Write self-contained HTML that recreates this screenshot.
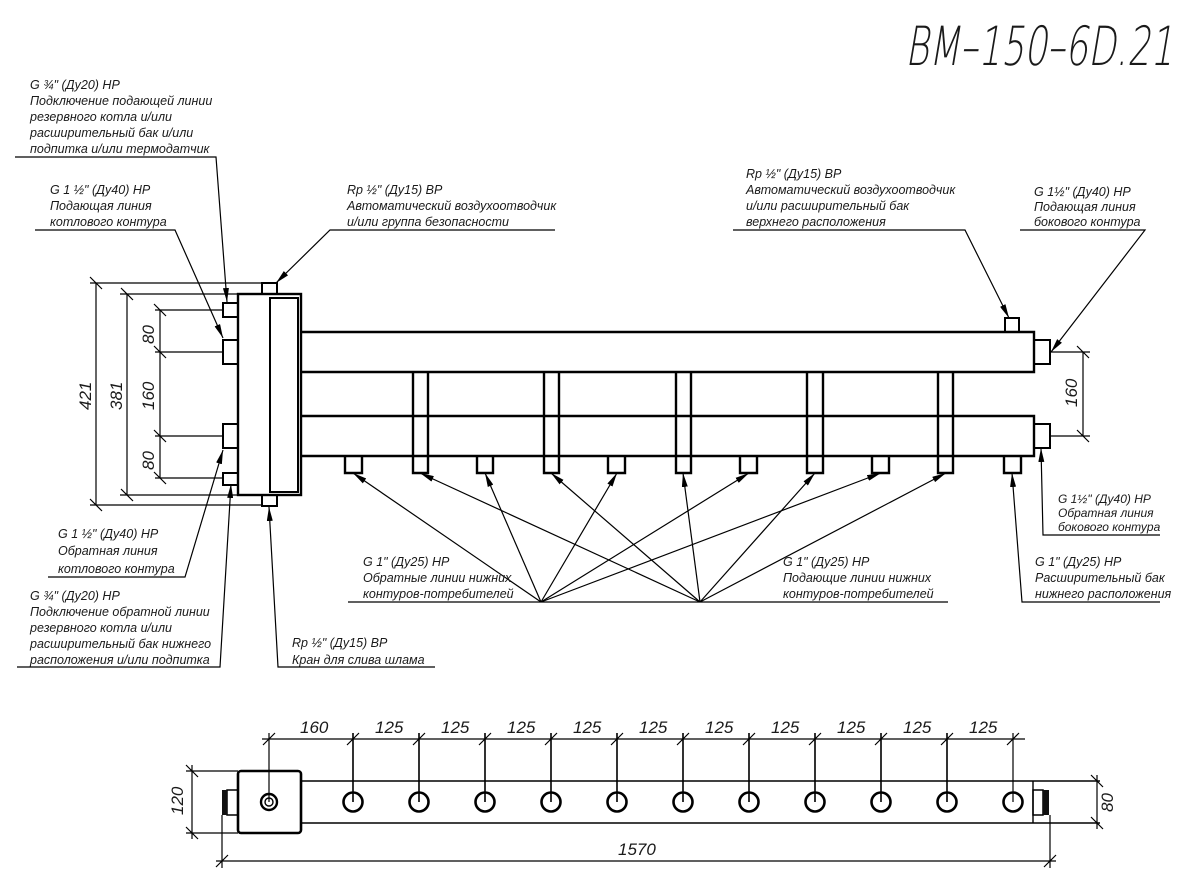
<!DOCTYPE html>
<html><head><meta charset="utf-8"><style>
html,body{margin:0;padding:0;background:#fff;}
svg{display:block;}
text{font-family:"Liberation Sans Narrow","Liberation Sans","DejaVu Sans",sans-serif;font-style:italic;fill:#1a1a1a;}
.t{font-size:12.5px;}
.ttl{font-family:"DejaVu Sans ExtraLight","DejaVu Sans Light","Liberation Sans Narrow","Liberation Sans",sans-serif;font-weight:200;}
</style></head><body>
<svg width="1200" height="892" viewBox="0 0 1200 892" xmlns="http://www.w3.org/2000/svg">
<defs>
<marker id="a" viewBox="0 0 14 6" refX="14" refY="3" markerWidth="14" markerHeight="6" markerUnits="userSpaceOnUse" orient="auto">
<path d="M0,0 L14,3 L0,6 z" fill="#000"/></marker>
</defs>
<text class="ttl" x="905" y="65" font-size="54" textLength="268" lengthAdjust="spacingAndGlyphs">BM–150–6D.21</text>

<g stroke="#000" fill="none" stroke-width="1.2">
<g stroke-width="2.4">
<rect x="238" y="294" width="63" height="201"/>
<rect x="270" y="298" width="28" height="194" stroke-width="2"/>
<path d="M301,332 H1034 V372 H301 M301,416 H1034 V456 H301"/>
<path d="M413,372 V473 H428 V372 M544,372 V473 H559 V372 M676,372 V473 H691 V372 M807,372 V473 H823 V372 M938,372 V473 H953 V372"/>
<path d="M345,456 V473 H362 V456 M477,456 V473 H493 V456 M608,456 V473 H625 V456 M740,456 V473 H757 V456 M872,456 V473 H889 V456 M1004,456 V473 H1021 V456"/>
</g>
<g stroke-width="2">
<rect x="262" y="283" width="15" height="11"/><rect x="262" y="495" width="15" height="11"/>
<rect x="1005" y="318" width="14" height="14"/>
<rect x="223" y="303" width="15" height="14"/><rect x="223" y="340" width="15" height="24"/>
<rect x="223" y="424" width="15" height="24"/><rect x="223" y="473" width="15" height="12"/>
<rect x="1034" y="340" width="16" height="24"/><rect x="1034" y="424" width="16" height="24"/>
</g>
<path d="M96,283 V505 M90,283 H262 M90,505 H262 M127,294 V495 M120,294 H238 M120,495 H238 M160,310 V478 M155,310 H223 M155,352 H223 M155,436 H223 M155,478 H223"/>
<path d="M90,277 L102,289 M90,499 L102,511 M121,288 L133,300 M121,489 L133,501 M154,304 L166,316 M154,346 L166,358 M154,430 L166,442 M154,472 L166,484"/>
<path d="M1050,352 H1090 M1050,436 H1090 M1083,352 V436 M1077,346 L1089,358 M1077,430 L1089,442"/>
<path d="M15,157 H216 L227,302" marker-end="url(#a)"/>
<path d="M35,230 H175 L223,338" marker-end="url(#a)"/>
<path d="M555,230 H330 L276,283" marker-end="url(#a)"/>
<path d="M733,230 H965 L1009,318" marker-end="url(#a)"/>
<path d="M1020,230 H1145 L1051,352" marker-end="url(#a)"/>
<path d="M48,577 H185 L223,450" marker-end="url(#a)"/>
<path d="M17,667 H220 L231,484" marker-end="url(#a)"/>
<path d="M435,667 H278 L269,507" marker-end="url(#a)"/>
<path d="M348,602 H948"/>
<path d="M541,602 L353,473" marker-end="url(#a)"/>
<path d="M541,602 L485,473" marker-end="url(#a)"/>
<path d="M541,602 L617,473" marker-end="url(#a)"/>
<path d="M541,602 L749,473" marker-end="url(#a)"/>
<path d="M541,602 L881,473" marker-end="url(#a)"/>
<path d="M700,602 L420,473" marker-end="url(#a)"/>
<path d="M700,602 L551,473" marker-end="url(#a)"/>
<path d="M700,602 L683,473" marker-end="url(#a)"/>
<path d="M700,602 L815,473" marker-end="url(#a)"/>
<path d="M700,602 L946,473" marker-end="url(#a)"/>
<path d="M1160,602 H1022 L1012,473" marker-end="url(#a)"/>
<path d="M1160,535 H1043 L1041,448" marker-end="url(#a)"/>

<rect x="238" y="771" width="63" height="62" rx="3" stroke-width="2.6"/>
<path d="M301,781 H1100 M301,823 H1100 M1033,781 V823" stroke-width="1.4"/>
<rect x="227" y="790" width="11" height="25" stroke-width="1.5"/>
<rect x="1033" y="790" width="10" height="25" stroke-width="1.5"/>
<path d="M262,739 H1025 M269,733 V802 M1013,733 V802"/>
<path d="M353,733 V802 M419,733 V802 M485,733 V802 M551,733 V802 M617,733 V802 M683,733 V802 M749,733 V802 M815,733 V802 M881,733 V802 M947,733 V802" stroke-width="1.6"/>
<path d="M263,745 L275,733 M347,745 L359,733 M413,745 L425,733 M479,745 L491,733 M545,745 L557,733 M611,745 L623,733 M677,745 L689,733 M743,745 L755,733 M809,745 L821,733 M875,745 L887,733 M941,745 L953,733 M1007,745 L1019,733"/>
<path d="M186,771 H238 M186,833 H238 M192,765 V839 M186,765 L198,777 M186,827 L198,839"/>
<path d="M1097,775 V829 M1091,775 L1103,787 M1091,817 L1103,829"/>
<path d="M222,815 V868 M1050,815 V868 M216,861 H1056 M216,867 L228,855 M1044,867 L1056,855"/>
</g>
<rect x="222" y="790" width="5" height="25" fill="#111"/>
<rect x="1043" y="790" width="6" height="25" fill="#111"/>
<g fill="none" stroke="#000">
<circle cx="269" cy="802" r="8" stroke-width="2.4"/><circle cx="269" cy="802" r="4" stroke-width="1.4"/>
<g stroke-width="2.6">
<circle cx="353" cy="802" r="9.5"/><circle cx="419" cy="802" r="9.5"/><circle cx="485" cy="802" r="9.5"/><circle cx="551" cy="802" r="9.5"/><circle cx="617" cy="802" r="9.5"/><circle cx="683" cy="802" r="9.5"/><circle cx="749" cy="802" r="9.5"/><circle cx="815" cy="802" r="9.5"/><circle cx="881" cy="802" r="9.5"/><circle cx="947" cy="802" r="9.5"/><circle cx="1013" cy="802" r="9.5"/>
</g></g>

<g class="t">
<text x="300" y="733" font-size="17">160</text>
<text x="375" y="733" font-size="17">125</text><text x="441" y="733" font-size="17">125</text><text x="507" y="733" font-size="17">125</text><text x="573" y="733" font-size="17">125</text><text x="639" y="733" font-size="17">125</text><text x="705" y="733" font-size="17">125</text><text x="771" y="733" font-size="17">125</text><text x="837" y="733" font-size="17">125</text><text x="903" y="733" font-size="17">125</text><text x="969" y="733" font-size="17">125</text>
<text x="618" y="855" font-size="17">1570</text>
<text transform="translate(183,815) rotate(-90)" font-size="17">120</text>
<text transform="translate(1113,812) rotate(-90)" font-size="17">80</text>
<text transform="translate(91,410) rotate(-90)" font-size="17">421</text>
<text transform="translate(122,410) rotate(-90)" font-size="17">381</text>
<text transform="translate(154,344) rotate(-90)" font-size="17">80</text>
<text transform="translate(154,410) rotate(-90)" font-size="17">160</text>
<text transform="translate(154,470) rotate(-90)" font-size="17">80</text>
<text transform="translate(1077,407) rotate(-90)" font-size="17">160</text>
</g>

<g class="t">
<text x="30" y="89">G ¾" (Ду20) НР</text>
<text x="30" y="105">Подключение подающей линии</text>
<text x="30" y="121">резервного котла и/или</text>
<text x="30" y="137">расширительный бак и/или</text>
<text x="30" y="153">подпитка и/или термодатчик</text>

<text x="50" y="194">G 1 ½" (Ду40) НР</text>
<text x="50" y="210">Подающая линия</text>
<text x="50" y="226">котлового контура</text>

<text x="347" y="194">Rp ½" (Ду15) ВР</text>
<text x="347" y="210">Автоматический воздухоотводчик</text>
<text x="347" y="226">и/или группа безопасности</text>

<text x="746" y="178">Rp ½" (Ду15) ВР</text>
<text x="746" y="194">Автоматический воздухоотводчик</text>
<text x="746" y="210">и/или расширительный бак</text>
<text x="746" y="226">верхнего расположения</text>

<text x="1034" y="196">G 1½" (Ду40) НР</text>
<text x="1034" y="211">Подающая линия</text>
<text x="1034" y="226">бокового контура</text>

<text x="58" y="538">G 1 ½" (Ду40) НР</text>
<text x="58" y="555">Обратная линия</text>
<text x="58" y="573">котлового контура</text>

<text x="30" y="600">G ¾" (Ду20) НР</text>
<text x="30" y="616">Подключение обратной линии</text>
<text x="30" y="632">резервного котла и/или</text>
<text x="30" y="648">расширительный бак нижнего</text>
<text x="30" y="664">расположения и/или подпитка</text>

<text x="292" y="647">Rp ½" (Ду15) ВР</text>
<text x="292" y="664">Кран для слива шлама</text>

<text x="363" y="566">G 1" (Ду25) НР</text>
<text x="363" y="582">Обратные линии нижних</text>
<text x="363" y="598">контуров-потребителей</text>

<text x="783" y="566">G 1" (Ду25) НР</text>
<text x="783" y="582">Подающие линии нижних</text>
<text x="783" y="598">контуров-потребителей</text>

<text x="1035" y="566">G 1" (Ду25) НР</text>
<text x="1035" y="582">Расширительный бак</text>
<text x="1035" y="598">нижнего расположения</text>

<text x="1058" y="503" font-size="12">G 1½" (Ду40) НР</text>
<text x="1058" y="517" font-size="12">Обратная линия</text>
<text x="1058" y="531" font-size="12">бокового контура</text>
</g>
</svg>
</body></html>
